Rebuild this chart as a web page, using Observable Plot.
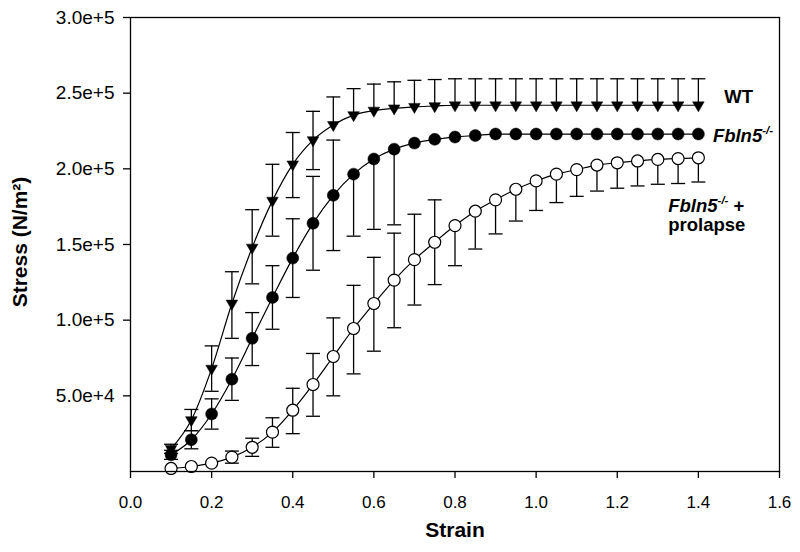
<!DOCTYPE html>
<html><head><meta charset="utf-8">
<script src="https://cdn.jsdelivr.net/npm/d3@7"></script>
<script src="https://cdn.jsdelivr.net/npm/@observablehq/plot@0.6"></script>
<style>body{margin:0;background:#fff} svg{display:block}</style>
</head><body><div id="chart"></div>
<script>
const strain = [0.10,0.15,0.20,0.25,0.30,0.35,0.40,0.45,0.50,0.55,0.60,0.65,0.70,0.75,0.80,0.85,0.90,0.95,1.00,1.05,1.10,1.15,1.20,1.25,1.30,1.35,1.40];

const wtMean = [15000,34000,68000,111000,148000,179000,203000,219000,229000,235500,238500,240000,241000,241500,242000,242000,242000,242000,242000,242000,242000,242000,242000,242000,242000,242000,242000];
const wtErrUp = [3000,7000,15000,21000,25000,24000,21000,19000,18500,17500,17500,17500,17500,17500,17500,17500,17500,17500,17500,17500,17500,17500,17500,17500,17500,17500,17500];
const wtErrDown = [3000,7000,15000,23000,24000,23500,22000,19500,null,null,null,null,null,null,null,null,null,null,null,null,null,null,null,null,null,null,null];

const fbMean = [11000,21000,38000,61000,88000,115000,141000,164000,182500,196500,206500,213000,217000,219500,221000,222000,223000,223000,223000,223000,223000,223000,223000,223000,223000,223000,223000];
const fbErrUp = [3000,6000,10000,14000,17000,21000,26000,31000,36500,null,null,null,null,null,null,null,null,null,null,null,null,null,null,null,null,null,null];
const fbErrDown = [3000,6000,10000,14000,18000,21000,26000,31000,36500,41000,46500,50000,null,null,null,null,null,null,null,null,null,null,null,null,null,null,null];

const prMean = [2000,3300,5500,9500,16000,26000,40500,57500,76000,94500,111000,126500,140000,151500,162500,172000,179500,186500,192000,196500,199500,202500,204000,205200,206200,206800,207300];
const prErrUp = [null,null,null,4000,6000,9500,14500,20500,25500,28500,30500,31000,30000,28000,null,null,null,null,null,null,null,null,null,null,null,null,null];
const prErrDown = [null,null,null,4000,6000,10000,15500,21000,26000,30000,31500,31500,30000,28000,26500,25000,22500,21000,19500,18800,17700,17200,16800,16500,16400,16500,16000];

const xTicks = [0,0.2,0.4,0.6,0.8,1.0,1.2,1.4,1.6];
const yTicks = [50000,100000,150000,200000,250000,300000];

function rows(mean, up, down) {
  return strain.map((x, i) => ({
    x, y: mean[i],
    up: up[i] == null ? null : mean[i] + up[i],
    lo: down[i] == null ? null : mean[i] - down[i]
  }));
}
const wt = rows(wtMean, wtErrUp, wtErrDown);
const fb = rows(fbMean, fbErrUp, fbErrDown);
const pr = rows(prMean, prErrUp, prErrDown);

const cap = {draw(ctx) { ctx.moveTo(-7, 0); ctx.lineTo(7, 0); }};
const triDown = {draw(ctx) { ctx.moveTo(-5.8, -3.4); ctx.lineTo(5.8, -3.4); ctx.lineTo(0, 6.6); ctx.closePath(); }};

function errMarks(data) {
  const u = data.filter(d => d.up != null), l = data.filter(d => d.lo != null);
  const s = {stroke: "black", strokeWidth: 1.3};
  return [
    Plot.ruleX(u, {x: "x", y1: "y", y2: "up", ...s}),
    Plot.ruleX(l, {x: "x", y1: "y", y2: "lo", ...s}),
    Plot.dot(u, {x: "x", y: "up", symbol: cap, fill: "none", ...s}),
    Plot.dot(l, {x: "x", y: "lo", symbol: cap, fill: "none", ...s})
  ];
}
const lineOpts = {x: "x", y: "y", curve: "monotone-x", stroke: "black", strokeWidth: 1.2};

const plot = Plot.plot({
  width: 800, height: 552,
  marginLeft: 130, marginRight: 21, marginTop: 17, marginBottom: 81,
  style: {fontFamily: "'Liberation Sans', Arial, sans-serif", color: "black", background: "white"},
  x: {domain: [0, 1.6]},
  y: {domain: [0, 300000]},
  marks: [
    ...errMarks(pr), ...errMarks(fb), ...errMarks(wt),
    Plot.line(pr, lineOpts), Plot.line(fb, lineOpts), Plot.line(wt, lineOpts),
    Plot.dot(pr, {x: "x", y: "y", r: 6, fill: "white", stroke: "black", strokeWidth: 1.2}),
    Plot.dot(fb, {x: "x", y: "y", r: 6, fill: "black", stroke: "black", strokeWidth: 0.5}),
    Plot.dot(wt, {x: "x", y: "y", symbol: triDown, fill: "black", stroke: "black", strokeWidth: 0.5}),
    Plot.frame({stroke: "black", strokeWidth: 1.3}),
    Plot.axisX(xTicks, {tickSize: 7, tickPadding: 17, tickFormat: d3.format(".1f"), fontSize: 17, strokeWidth: 1.3, label: null}),
    Plot.axisY(yTicks, {tickSize: 7, tickPadding: 9, tickFormat: d3.format(".1e"), fontSize: 19, strokeWidth: 1.3, label: null}),
    Plot.text(["Strain"], {frameAnchor: "bottom", dy: 65, fontSize: 21, fontWeight: "bold", textAnchor: "middle"}),
    Plot.text(["Stress (N/m²)"], {frameAnchor: "left", dx: -110, dy: -2.5, rotate: -90, fontSize: 21, fontWeight: "bold", textAnchor: "middle"})
  ]
});
document.getElementById("chart").append(plot);

// series labels placed through the plot's own scales
const sx = plot.scale("x"), sy = plot.scale("y");
const svg = d3.select(plot);
function label(x, y, parts) {
  const t = svg.append("text")
    .attr("x", sx.apply(x)).attr("y", sy.apply(y))
    .attr("text-anchor", "start")
    .attr("font-family", "'Liberation Sans', Arial, sans-serif")
    .attr("font-size", 18.5).attr("font-weight", "bold").attr("fill", "black");
  for (const p of parts) {
    const s = t.append("tspan").text(p.t);
    if (p.i) s.attr("font-style", "italic");
    if (p.sup) s.attr("font-size", 11.5).attr("dy", -7.5);
    if (p.after) s.attr("dy", 7.5);
    if (p.nl) s.attr("x", sx.apply(x)).attr("dy", "1.06em");
  }
}
label(1.465, 243100, [{t: "WT"}]);
label(1.437, 217700, [{t: "Fbln5", i: true}, {t: "-/-", i: true, sup: true}]);
label(1.327, 171300, [{t: "Fbln5", i: true}, {t: "-/-", i: true, sup: true}, {t: " +", after: true}, {t: "prolapse", nl: true}]);
</script>
</body></html>
